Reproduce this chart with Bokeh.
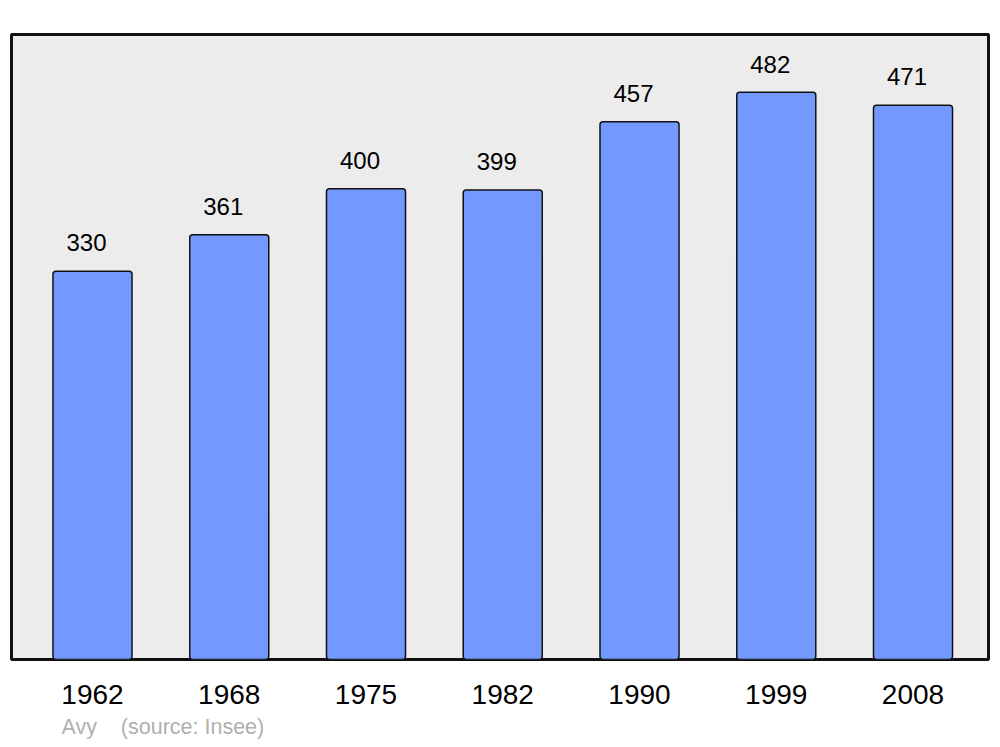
from bokeh.plotting import figure
from bokeh.models import FixedTicker, Range1d, Title, ColumnDataSource
from bokeh.core.properties import value
from bokeh.embed import file_html
from bokeh.resources import INLINE

years = ["1962", "1968", "1975", "1982", "1990", "1999", "2008"]
population = [330, 361, 400, 399, 457, 482, 471]
place = "Avy"
source_note = "(source: Insee)"

FONT = "Liberation Sans"
idx = list(range(len(years)))

src = ColumnDataSource(dict(
    x=idx,
    top=population,
    label=[str(v) for v in population],
    ly=[v + 24 for v in population],
))

p = figure(width=998, height=745, output_backend="svg", toolbar_location=None,
           x_range=Range1d(-0.5923, 6.552), y_range=Range1d(0, 531.1),
           min_border_left=11, min_border_right=10, min_border_top=34, min_border_bottom=86)
p.background_fill_color = "#ECECEC"
p.border_fill_color = "white"
p.outline_line_color = "#111111"
p.outline_line_width = 3
p.xgrid.visible = False
p.ygrid.visible = False
p.yaxis.visible = False

p.vbar(x="x", top="top", bottom=0, width=0.578, source=src,
       fill_color="#7399FF", line_color="#111111", line_width=1.5, border_radius=3)

p.text(x="x", y="ly", text="label", source=src, x_offset=-6,
       text_font=value(FONT), text_font_size="24px", text_color="black",
       text_align="center", text_baseline="alphabetic")

ax = p.xaxis[0]
ax.ticker = FixedTicker(ticks=idx)
ax.major_label_overrides = {i: y for i, y in zip(idx, years)}
ax.major_label_text_font = FONT
ax.major_label_text_font_size = "28px"
ax.major_label_text_color = "black"
ax.major_label_standoff = 25
ax.major_tick_in = 0
ax.major_tick_out = 0
ax.minor_tick_in = 0
ax.minor_tick_out = 0
ax.axis_line_color = None

note = Title(text=place + "\u00a0" * 4 + source_note, align="left", offset=50,
             text_font=FONT, text_font_size="21.5px", text_font_style="normal",
             text_color="#B0B0B0", standoff=13)
p.add_layout(note, "below")

open("out.html", "w").write(file_html(p, INLINE))
